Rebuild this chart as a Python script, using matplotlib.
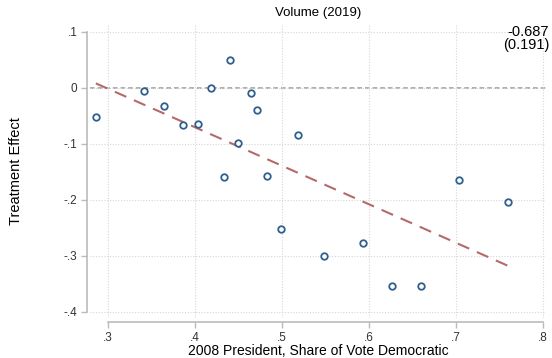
import numpy as np
import matplotlib
matplotlib.use("Agg")
import matplotlib.pyplot as plt

# Точки: доля голосов за демократов (2008) и оценённый эффект
share_dem = [0.286, 0.341, 0.364, 0.386, 0.403, 0.418, 0.440, 0.433, 0.449, 0.464,
             0.471, 0.483, 0.518, 0.499, 0.548, 0.593, 0.626, 0.660, 0.703, 0.760]
effect = [-0.052, -0.005, -0.032, -0.066, -0.064, 0.000, 0.050, -0.159, -0.098, -0.009,
          -0.039, -0.157, -0.084, -0.252, -0.300, -0.277, -0.354, -0.354, -0.164, -0.204]
# Линия регрессии (концы)
fit_x = [0.286, 0.760]
fit_y = [0.008, -0.318]
coef_txt = "-0.687\n(0.191)"

xticks = [0.3, 0.4, 0.5, 0.6, 0.7, 0.8]
xlabels = [".3", ".4", ".5", ".6", ".7", ".8"]
yticks = [0.1, 0.0, -0.1, -0.2, -0.3, -0.4]
ylabels = [".1", "0", "-.1", "-.2", "-.3", "-.4"]

plt.rcParams["font.family"] = ["Liberation Sans", "DejaVu Sans"]

fig = plt.figure(figsize=(5.52, 3.58), dpi=100)
ax = fig.add_axes([90 / 552, 1 - 318 / 358, 456 / 552, 294 / 358])

ax.set_xlim(0.2793, 0.8034)
ax.set_ylim(-0.411, 0.114)

ax.grid(True, color="#d6d6d6", ls=(0, (1, 1.5)), lw=0.8)
ax.axhline(0, color="#999999", ls=(0, (3, 2)), lw=1.1, zorder=1)
ax.plot(fit_x, fit_y, color="#b56a6a", ls=(0, (6, 4)), lw=1.5, zorder=2)
ax.scatter(share_dem, effect, s=22, facecolors="white", edgecolors="#2f5f8f",
           linewidths=1.3, zorder=3)

fig.text(549 / 552, 1 - 25 / 358, coef_txt, ha="right", va="top",
         fontsize=10.5, linespacing=0.95)

for side in ("top", "right"):
    ax.spines[side].set_visible(False)
ax.spines["left"].set_position(("outward", 2))
ax.spines["bottom"].set_position(("outward", 3))
ax.spines["left"].set_bounds(-0.4, 0.1)
ax.spines["bottom"].set_bounds(0.3, 0.8)
for side in ("left", "bottom"):
    ax.spines[side].set_color("#bbbbbb")
    ax.spines[side].set_linewidth(1.2)

ax.set_xticks(xticks, xlabels)
ax.set_yticks(yticks, ylabels)
ax.tick_params(colors="#bbbbbb", labelcolor="#333333", labelsize=8.5, length=4, width=1.0)
ax.tick_params(axis="y", pad=3)
ax.tick_params(axis="x", pad=3)

ax.set_title("Volume (2019)", fontsize=9.5, pad=6)
ax.set_xlabel("2008 President, Share of Vote Democratic", fontsize=10, labelpad=0)
ax.set_ylabel("Treatment Effect", fontsize=10.5, labelpad=29)

fig.savefig("out.png", dpi=100)
